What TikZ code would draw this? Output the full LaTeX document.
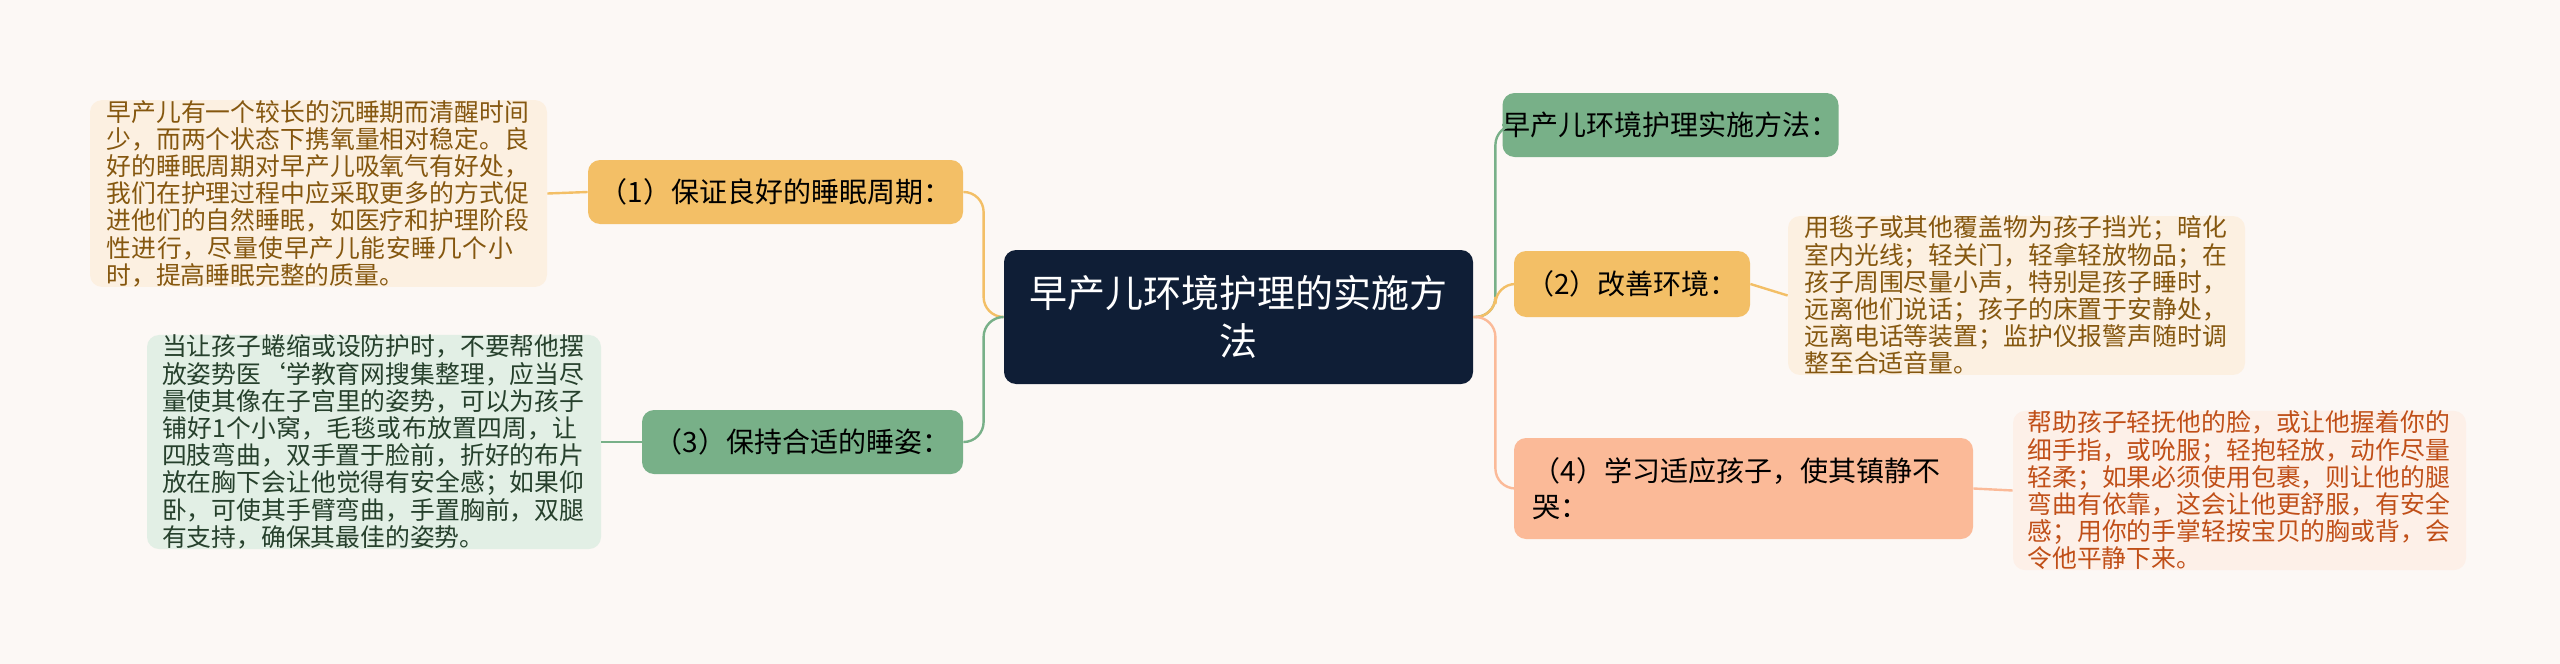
\documentclass[tikz,border=0pt]{standalone}
\usepackage{fontspec}
\setmainfont{Noto Sans CJK SC}
\XeTeXlinebreaklocale "zh"
\XeTeXlinebreakskip=0pt plus 1pt
\definecolor{bg}{HTML}{FCF8F5}
\definecolor{navy}{HTML}{0F1E36}
\definecolor{yel}{HTML}{F3BF66}
\definecolor{yelleaf}{HTML}{FCF0E1}
\definecolor{yeltext}{HTML}{85570F}
\definecolor{grn}{HTML}{78B088}
\definecolor{grnleaf}{HTML}{E2EFE5}
\definecolor{grntext}{HTML}{26402C}
\definecolor{sal}{HTML}{FBBA98}
\definecolor{salleaf}{HTML}{FDF0E8}
\definecolor{saltext}{HTML}{C04F18}
\tikzset{
  box/.style={rounded corners=6pt,inner sep=0pt,align=left},
  leaf/.style={box,font=\fontsize{12.4}{13.6}\selectfont},
  branch/.style={box,font=\fontsize{14}{18}\selectfont},
  link/.style={line width=1.2pt,rounded corners=10pt}
}
\begin{document}
\begin{tikzpicture}[x=0.5pt,y=-0.5pt]
  \fill[bg] (0,0) rectangle (2560,664);
  \useasboundingbox (0,0) rectangle (2560,664);
  % centre
  \node[box,fill=navy,text=white,minimum width=234.5pt,minimum height=67pt,align=center,
    font=\fontsize{19}{24}\selectfont] (root) at (1238.5,317) {早产儿环境护理的实施方\\法};
  % left branches
  \node[branch,fill=yel,text=black,minimum width=187.5pt,minimum height=32pt,align=center] (sleep) at (775.5,192) {（1）保证良好的睡眠周期：};
  \node[branch,fill=grn,text=black,minimum width=160.5pt,minimum height=32pt,align=center] (pose) at (802.5,442) {（3）保持合适的睡姿：};
  \node[leaf,fill=yelleaf,text=yeltext,minimum width=228.5pt,minimum height=92.5pt,text width=212pt] (sleepleaf) at (318.5,193.5)
    {早产儿有一个较长的沉睡期而清醒时间少，而两个状态下携氧量相对稳定。良好的睡眠周期对早产儿吸氧气有好处，我们在护理过程中应采取更多的方式促进他们的自然睡眠，如医疗和护理阶段性进行，尽量使早产儿能安睡几个小时，提高睡眠完整的质量。};
  \node[leaf,fill=grnleaf,text=grntext,minimum width=227pt,minimum height=107pt,text width=212pt] (poseleaf) at (374,442)
    {当让孩子蜷缩或设防护时，不要帮他摆放姿势医`学教育网搜集整理，应当尽量使其像在子宫里的姿势，可以为孩子铺好1个小窝，毛毯或布放置四周，让四肢弯曲，双手置于脸前，折好的布片放在胸下会让他觉得有安全感；如果仰卧，可使其手臂弯曲，手置胸前，双腿有支持，确保其最佳的姿势。};
  % right branches
  \node[branch,fill=grn,text=black,minimum width=156.5pt,minimum height=32pt,align=center] (title) at (1670.5,125) {早产儿环境护理实施方法：};
  \node[branch,fill=yel,text=black,minimum width=118pt,minimum height=33pt,align=center] (env) at (1632,284) {（2）改善环境：};
  \node[branch,fill=sal,text=black,minimum width=229.5pt,minimum height=50.5pt,text width=211pt] (adapt) at (1743.5,488.5) {（4）学习适应孩子，使其镇静不\\哭：};
  \node[leaf,fill=yelleaf,text=yeltext,minimum width=228.5pt,minimum height=66.5pt,text width=212pt] (envleaf) at (2016.5,295.5)
    {用毯子或其他覆盖物为孩子挡光；暗化室内光线；轻关门，轻拿轻放物品；在孩子周围尽量小声，特别是孩子睡时，远离他们说话；孩子的床置于安静处，远离电话等装置；监护仪报警声随时调整至合适音量。};
  \node[leaf,fill=salleaf,text=saltext,minimum width=226.5pt,minimum height=77.5pt,text width=212pt] (adaptleaf) at (2239.5,490.5)
    {帮助孩子轻抚他的脸，或让他握着你的细手指，或吮服；轻抱轻放，动作尽量轻柔；如果必须使用包裹，则让他的腿弯曲有依靠，这会让他更舒服，有安全感；用你的手掌轻按宝贝的胸或背，会令他平静下来。};
  % connectors
  \draw[link,yel] (root.west) -- ++(-20,0) |- (sleep.east);
  \draw[link,grn] (root.west) -- ++(-20,0) |- (pose.east);
  \draw[link,grn] (root.east) -- ++(22,0) |- (title.west);
  \draw[link,yel] (root.east) -- ++(22,0) |- (env.west);
  \draw[link,sal] (root.east) -- ++(22,0) |- (adapt.west);
  \draw[link,yel] (sleep.west) -- (sleepleaf.east);
  \draw[link,grn] (pose.west) -- (poseleaf.east);
  \draw[link,yel] (env.east) -- (envleaf.west);
  \draw[link,sal] (adapt.east) -- (adaptleaf.west);
\end{tikzpicture}
\end{document}
